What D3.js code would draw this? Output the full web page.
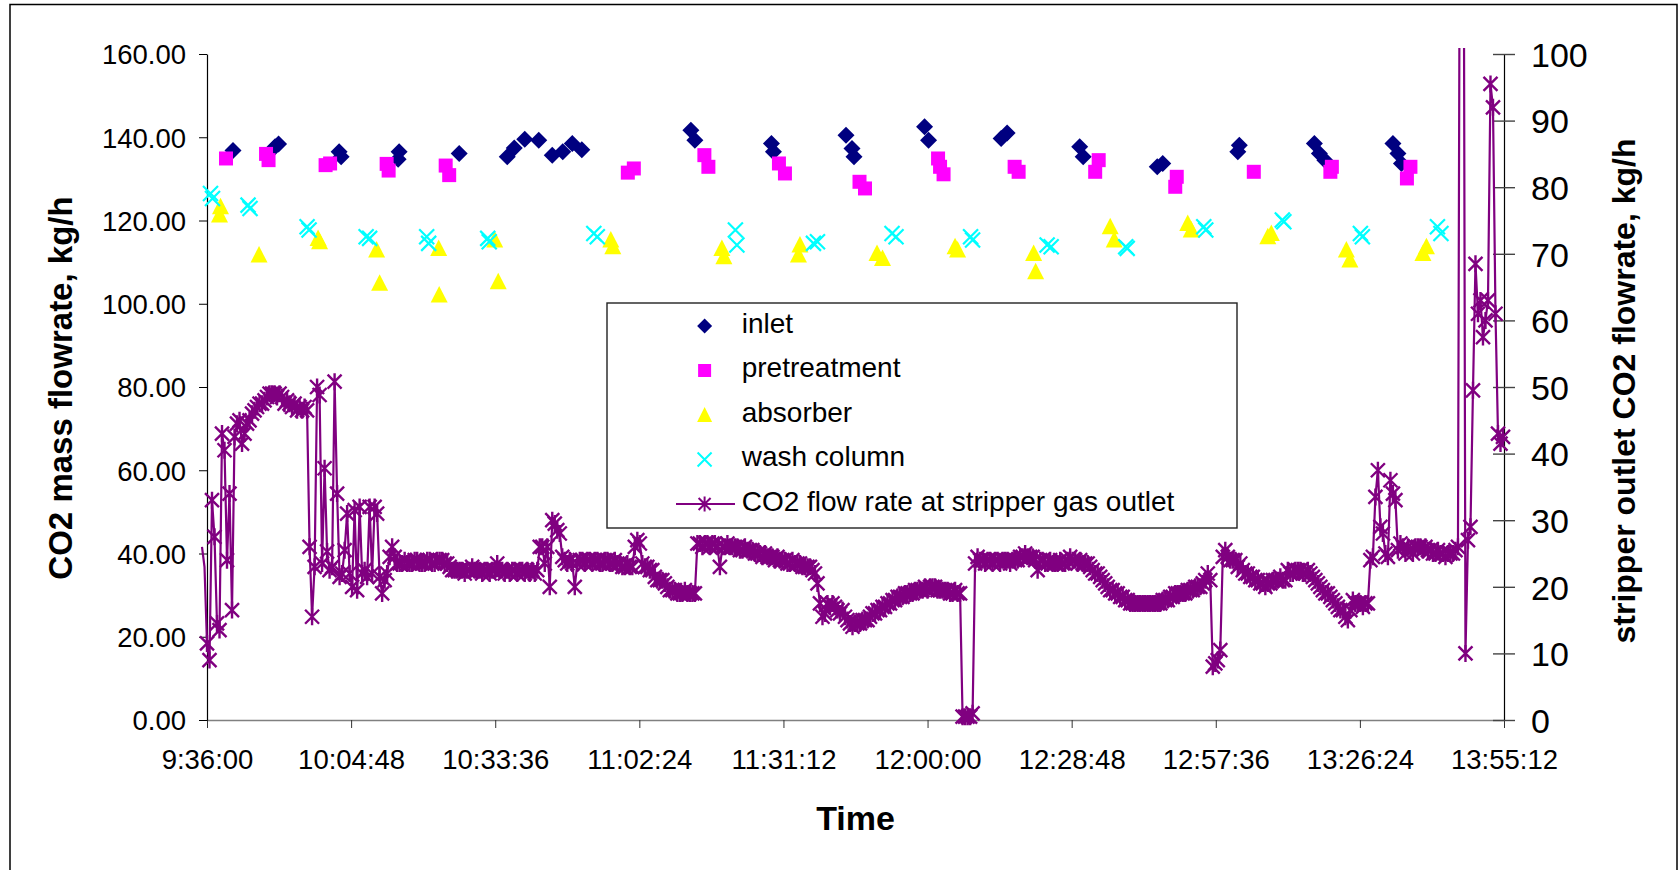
<!DOCTYPE html>
<html>
<head>
<meta charset="utf-8">
<script src="https://cdnjs.cloudflare.com/ajax/libs/d3/7.8.5/d3.min.js"></script>
<style>
	body { margin: 0; background: #fff; }
	svg { display: block; font-family: "Liberation Sans", Arial, sans-serif; }
</style>
</head>
<body>
<div id="chart"></div>
<script>
// tick labels
const timeTicks = ["9:36:00", "10:04:48", "10:33:36", "11:02:24", "11:31:12", "12:00:00", "12:28:48", "12:57:36", "13:26:24", "13:55:12"];
const leftTicks = [0, 20, 40, 60, 80, 100, 120, 140, 160];
const rightTicks = [0, 10, 20, 30, 40, 50, 60, 70, 80, 90, 100];

// scatter series, left axis (time, kg/h)
const inlet = [
	["9:41:12", 136.8], ["9:49:36", 137.7], ["9:50:18", 138.4],
	["10:02:24", 136.5], ["10:02:48", 135.3],
	["10:14:12", 134.7], ["10:14:24", 136.5],
	["10:26:24", 136.1],
	["10:36:00", 135.3], ["10:37:24", 137.4], ["10:39:30", 139.5], ["10:42:18", 139.3], ["10:45:00", 135.7], ["10:47:06", 136.5], ["10:49:00", 138.5], ["10:50:54", 137.0],
	["11:12:42", 141.7], ["11:13:30", 139.3],
	["11:28:48", 138.5], ["11:29:12", 136.5],
	["11:43:42", 140.5], ["11:44:54", 137.3], ["11:45:18", 135.3],
	["11:59:24", 142.5], ["12:00:12", 139.3],
	["12:14:42", 139.7], ["12:15:54", 141.0],
	["12:30:24", 137.7], ["12:31:06", 135.3],
	["12:45:54", 132.9], ["12:47:00", 133.7],
	["13:02:00", 136.5], ["13:02:18", 138.1],
	["13:17:18", 138.5], ["13:18:18", 136.1], ["13:19:24", 134.5],
	["13:33:00", 138.5], ["13:34:00", 136.1], ["13:34:42", 133.7]
];
const pretreatment = [
	["9:39:48", 134.9], ["9:47:48", 136.0], ["9:48:18", 134.5],
	["9:59:42", 133.3], ["10:00:36", 133.7],
	["10:11:54", 133.6], ["10:12:18", 132.0],
	["10:23:42", 133.2], ["10:24:24", 130.9],
	["11:00:06", 131.5], ["11:01:18", 132.5],
	["11:15:24", 135.7], ["11:16:12", 132.9],
	["11:30:18", 133.7], ["11:31:30", 131.3],
	["11:46:24", 129.3], ["11:47:30", 127.7],
	["12:02:06", 134.9], ["12:02:30", 132.9], ["12:03:12", 131.1],
	["12:17:24", 132.9], ["12:18:12", 131.7],
	["12:33:30", 131.7], ["12:34:12", 134.5],
	["12:49:30", 128.1], ["12:49:48", 130.5],
	["13:05:12", 131.7],
	["13:20:30", 131.7], ["13:20:48", 132.9],
	["13:35:48", 130.1], ["13:36:30", 132.9]
];
const absorber = [
	["9:38:30", 121.3], ["9:38:42", 123.3], ["9:46:24", 111.7],
	["9:58:12", 115.7], ["9:58:30", 114.9],
	["10:09:54", 112.9], ["10:10:30", 104.9],
	["10:22:18", 113.3], ["10:22:24", 102.1],
	["10:33:30", 115.3], ["10:34:12", 105.3],
	["10:56:42", 115.3], ["10:57:06", 113.7],
	["11:18:54", 113.3], ["11:19:18", 111.3],
	["11:34:12", 111.7], ["11:34:30", 114.1],
	["11:49:54", 112.1], ["11:51:00", 110.9],
	["12:05:30", 113.7], ["12:06:00", 112.9],
	["12:21:12", 112.1], ["12:21:36", 107.7],
	["12:36:30", 118.5], ["12:37:18", 115.3],
	["12:52:00", 119.3], ["12:52:42", 117.7],
	["13:08:00", 116.1], ["13:08:42", 116.9],
	["13:23:42", 112.9], ["13:24:24", 110.5],
	["13:39:00", 112.1], ["13:39:42", 113.7]
];
const washColumn = [
	["9:36:42", 126.5], ["9:37:06", 125.3],
	["9:44:12", 123.7], ["9:44:36", 122.9],
	["9:56:00", 118.5], ["9:56:24", 117.7],
	["10:07:48", 116.1], ["10:08:30", 115.7],
	["10:19:54", 116.1], ["10:20:18", 114.5],
	["10:32:06", 115.7], ["10:32:24", 114.9],
	["10:53:18", 116.9], ["10:54:00", 116.1],
	["11:21:36", 117.7], ["11:21:54", 114.1],
	["11:37:12", 114.5], ["11:38:00", 114.9],
	["11:52:54", 116.9], ["11:53:42", 116.1],
	["12:08:36", 116.1], ["12:09:00", 115.3],
	["12:23:54", 114.1], ["12:24:42", 113.7],
	["12:39:36", 113.7], ["12:39:54", 113.3],
	["12:55:12", 118.5], ["12:55:36", 117.7],
	["13:10:54", 120.1], ["13:11:12", 119.7],
	["13:26:30", 116.9], ["13:26:54", 116.1],
	["13:41:54", 118.5], ["13:42:36", 116.9]
];

// stripper gas outlet CO2, right axis, one reading every 30 s from co2Start
const co2Start = "9:35:00";
const co2StepSec = 30;
const co2Values = [
	26, 23,
	11.5, 9, 33, 27.5, 14.5, 13.5, 43, 40.5, 24, 34,
	16.5, 42.5, 44.5, 45, 41.5, 43, 44.5, 45, 46, 46.5,
	47, 47.5, 47.5, 48, 48.5, 49, 49, 49, 48.5, 49,
	48.5, 47.5, 48, 47.5, 47, 47.5, 46.5, 47, 46.5, 47,
	46.5, 26, 15.5, 23, 50, 48.8, 23.5, 37.8, 25.3, 22.5,
	23, 50.8, 34, 21.5, 22, 25.5, 31, 22, 20, 31.5,
	19.5, 32, 22, 22.5, 21.5, 32, 22, 32, 31, 21.5,
	19, 21, 22, 24.5, 26, 24.5, 23.5, 23.5, 23.5, 24,
	23.5, 23.5, 23.5, 24, 24, 23.5, 23.5, 23.5, 24, 24,
	23.5, 23.5, 24, 24, 24, 23.5, 23.5, 23, 22.5, 22.5,
	22.5, 22.5, 22.5, 22, 22.5, 22.5, 23, 22.5, 22.5, 22.5,
	22, 22.5, 22.5, 22, 22.5, 22.5, 23.5, 22.5, 22.5, 22,
	22.5, 22, 22.5, 22.5, 22, 22.5, 22.5, 22, 22.5, 22,
	22.5, 22, 22.5, 26, 26, 23.5, 26, 20, 30, 29.5,
	28.5, 28, 24.5, 24, 23.5, 24, 23.5, 20, 23.5, 24,
	24, 23.5, 24, 24, 23.5, 24, 24, 23.5, 23.5, 24,
	24, 23.5, 23.5, 24, 23.5, 23.5, 23, 23, 23.5, 23,
	23, 26, 27, 26.5, 23.5, 23, 23, 22.5, 22.5, 21.5,
	21, 21, 21, 20.5, 20, 19.5, 19.5, 19.5, 19, 19,
	19, 19.5, 19, 19, 19, 19, 26.5, 26.5, 26, 26.5,
	26.5, 26, 26.5, 26.5, 26, 23, 26, 26, 26.5, 26,
	26, 26, 26, 25.5, 25.5, 26, 25.5, 25.5, 25.5, 25,
	25, 25, 24.5, 25, 24.5, 24.5, 24.5, 24, 24.5, 24,
	24, 24, 23.5, 23.5, 24, 23.5, 23.5, 23.5, 23, 23,
	23, 23, 22.5, 22, 20.5, 17.5, 15.5, 16, 17.5, 17,
	17.5, 17, 16.5, 16, 16.5, 15.5, 15, 14.5, 14, 14.5,
	14.5, 14.5, 15, 15, 15, 15.5, 16, 16, 16.5, 16.5,
	17, 17, 17.5, 17.5, 18, 18, 18.5, 18.5, 18.5, 19,
	19, 19, 19, 19.5, 19.5, 19.5, 19.5, 20, 19.5, 20,
	20, 20, 19.5, 19.5, 19.5, 19.5, 19.5, 19, 19, 19.5,
	19, 19, 0.5, 0.5, 0.5, 0.5, 1, 23.5, 24.5, 24,
	24, 23.5, 24, 24, 23.5, 24, 24, 23.5, 24, 24,
	24, 23.5, 24, 24, 24, 24.5, 24.5, 25, 24.5, 24.5,
	24.5, 24, 22.5, 24, 24, 23.5, 23.5, 24, 23.5, 23.5,
	23.5, 24, 23.5, 23.5, 24, 24.5, 24, 24, 23.5, 24,
	23.5, 23.5, 23.5, 23, 22.5, 22, 22, 21.5, 21, 20.5,
	20, 19.5, 19.5, 19, 19, 18.5, 18.5, 18, 18, 17.5,
	17.5, 17.5, 17.5, 17.5, 17.5, 17.5, 17.5, 17.5, 17.5, 17.5,
	17.5, 17.5, 18, 18, 18, 18.5, 18.5, 19, 19, 19,
	19, 19, 19.5, 19.5, 19.5, 20, 20, 20, 20.5, 21,
	22, 21, 8, 8.5, 9, 10.5, 24.5, 25.5, 24.5, 24,
	24, 24, 23, 23.5, 22.5, 22, 22, 21.5, 21.5, 21,
	21, 20.5, 20.5, 20, 20.5, 20.5, 21, 21, 21, 21.5,
	21, 21, 22.5, 22, 22, 22.5, 22.5, 22.5, 22, 22,
	22.5, 22, 21.5, 21, 20.5, 20, 19.5, 19, 19, 18.5,
	18, 17.5, 17, 16.5, 16.5, 15.5, 15, 16.5, 18, 17.5,
	17.5, 17.5, 17, 17.5, 17.5, 24, 24.5, 33.5, 37.5, 29,
	28, 25, 24.5, 36, 34, 33, 25.5, 26.5, 26, 25,
	26, 25.5, 25, 26, 26, 26, 25.5, 26, 25.5, 25.5,
	25, 25, 25.5, 25, 25, 24.5, 25, 25, 25, 25.5,
	26, 160, 170, 10, 27, 29, 49.5, 68.5, 61, 63,
	57.5, 60, 63, 95.5, 92, 61, 43, 41.5, 42.5
];

const seriesNames = ["inlet", "pretreatment", "absorber", "wash column", "CO2 flow rate at stripper gas outlet"];

document.addEventListener("DOMContentLoaded", function(event) {

	var width = 1679;
	var height = 870;

	function toDate(s) {
		var p = s.split(":");
		return new Date(2000, 0, 1, +p[0], +p[1], +p[2]);
	}

	const svg = d3.select("#chart").append("svg")
		.attr("width", width)
		.attr("height", height);

	// outer chart frame (bottom edge runs off the picture)
	svg.append("rect")
		.attr("x", 10).attr("y", 4.5)
		.attr("width", 1667).attr("height", 900)
		.attr("fill", "#fff")
		.attr("stroke", "#000")
		.attr("stroke-width", 1.5);

	const x = d3.scaleTime()
		.domain([toDate(timeTicks[0]), toDate(timeTicks[timeTicks.length - 1])])
		.range([207, 1504]);
	const yL = d3.scaleLinear().domain([0, 160]).range([720, 54]);
	const yR = d3.scaleLinear().domain([0, 100]).range([720, 54]);

	//axes
	const xAxis = svg.append("g")
		.attr("transform", "translate(0,720)")
		.call(d3.axisBottom(x)
			.tickValues(timeTicks.map(toDate))
			.tickFormat(d3.timeFormat("%-H:%M:%S"))
			.tickSize(8)
			.tickSizeOuter(0));
	xAxis.select(".domain").attr("stroke", "#808080").attr("stroke-width", 1.6);
	xAxis.selectAll(".tick line").attr("stroke", "#333");
	xAxis.selectAll("text")
		.attr("y", 49).attr("dy", 0)
		.attr("font-size", 27.5)
		.attr("font-family", "Liberation Sans, Arial, sans-serif")
		.attr("fill", "#000");

	const leftAxis = svg.append("g")
		.attr("transform", "translate(207,0)")
		.call(d3.axisLeft(yL)
			.tickValues(leftTicks)
			.tickFormat(d3.format(".2f"))
			.tickSize(8)
			.tickPadding(13)
			.tickSizeOuter(0));
	leftAxis.select(".domain").attr("stroke", "#000").attr("stroke-width", 1.2);
	leftAxis.selectAll("text")
		.attr("dy", "0.36em")
		.attr("font-size", 27.5)
		.attr("font-family", "Liberation Sans, Arial, sans-serif")
		.attr("fill", "#000");

	const rightAxis = svg.append("g")
		.attr("transform", "translate(1504,0)")
		.call(d3.axisRight(yR)
			.tickValues(rightTicks)
			.tickSize(11)
			.tickSizeOuter(0));
	rightAxis.select(".domain").attr("stroke", "#000").attr("stroke-width", 1.2);
	rightAxis.selectAll(".tick line").attr("x1", -11).attr("x2", 11).attr("stroke", "#444").attr("stroke-width", 1.4);
	rightAxis.selectAll("text")
		.attr("x", 27)
		.attr("dy", "0.36em")
		.attr("font-size", 34)
		.attr("font-family", "Liberation Sans, Arial, sans-serif")
		.attr("fill", "#000");

	//axis titles
	svg.append("text")
		.attr("transform", "translate(72,388) rotate(-90)")
		.attr("text-anchor", "middle")
		.attr("font-size", 33)
		.attr("font-weight", "bold")
		.text("CO2 mass flowrate, kg/h");
	svg.append("text")
		.attr("transform", "translate(1635,391) rotate(-90)")
		.attr("text-anchor", "middle")
		.attr("font-size", 32)
		.attr("font-weight", "bold")
		.text("stripper outlet CO2 flowrate, kg/h");
	svg.append("text")
		.attr("x", 855.5).attr("y", 830)
		.attr("text-anchor", "middle")
		.attr("font-size", 34)
		.attr("font-weight", "bold")
		.text("Time");

	//marker shapes
	const diamond = "M0,-8.5L8.5,0L0,8.5L-8.5,0Z";
	const square = "M-7,-7H7V7H-7Z";
	const triangle = "M0,-9L8.5,7.5L-8.5,7.5Z";
	const cross = "M-7.5,-7.5L7.5,7.5M-7.5,7.5L7.5,-7.5";
	const star = "M-7,-7L7,7M-7,7L7,-7M0,-8.5V8.5";

	function scatter(data, path, color, stroked) {
		svg.append("g")
			.selectAll("path")
			.data(data)
			.enter().append("path")
			.attr("d", path)
			.attr("transform", d => "translate(" + x(toDate(d[0])) + "," + yL(d[1]) + ")")
			.attr("fill", stroked ? "none" : color)
			.attr("stroke", stroked ? color : "none")
			.attr("stroke-width", 2.2);
	}

	scatter(inlet, diamond, "#000080", false);
	scatter(pretreatment, square, "#ff00ff", false);
	scatter(absorber, triangle, "#ffff00", false);
	scatter(washColumn, cross, "#00ffff", true);

	//CO2 line on secondary axis
	const t0 = toDate(co2Start);
	const co2 = co2Values.map((v, i) => ({ t: d3.timeSecond.offset(t0, i * co2StepSec), v: v }));

	svg.append("clipPath").attr("id", "clipTop")
		.append("rect")
		.attr("x", 0).attr("y", 48)
		.attr("width", width).attr("height", height);

	const co2g = svg.append("g").attr("clip-path", "url(#clipTop)");
	co2g.append("path")
		.datum(co2)
		.attr("d", d3.line().x(d => x(d.t)).y(d => yR(d.v)))
		.attr("fill", "none")
		.attr("stroke", "#800080")
		.attr("stroke-width", 2.2);
	co2g.selectAll(".star")
		.data(co2.filter(d => d.t >= x.domain()[0]))
		.enter().append("path")
		.attr("class", "star")
		.attr("d", star)
		.attr("transform", d => "translate(" + x(d.t) + "," + yR(d.v) + ")")
		.attr("fill", "none")
		.attr("stroke", "#800080")
		.attr("stroke-width", 2.4);

	//legend
	const legend = svg.append("g");
	legend.append("rect")
		.attr("x", 607).attr("y", 303)
		.attr("width", 630).attr("height", 225)
		.attr("fill", "#fff")
		.attr("stroke", "#222")
		.attr("stroke-width", 1.4);

	const legendShapes = [
		"M0,-7.5L7.5,0L0,7.5L-7.5,0Z",
		"M-6.5,-6.5H6.5V6.5H-6.5Z",
		"M0,-8L7.5,7L-7.5,7Z",
		"M-7,-7L7,7M-7,7L7,-7",
		"M-6,-6L6,6M-6,6L6,-6M0,-7.5V7.5"
	];
	const legendColors = ["#000080", "#ff00ff", "#ffff00", "#00ffff", "#800080"];
	seriesNames.forEach(function(name, i) {
		var ly = 326 + i * 44.5;
		if (i == 4) {
			legend.append("line")
				.attr("x1", 676).attr("x2", 735)
				.attr("y1", ly).attr("y2", ly)
				.attr("stroke", legendColors[i])
				.attr("stroke-width", 2);
		}
		var stroked = i >= 3;
		legend.append("path")
			.attr("d", legendShapes[i])
			.attr("transform", "translate(704.6," + ly + ")")
			.attr("fill", stroked ? "none" : legendColors[i])
			.attr("stroke", stroked ? legendColors[i] : "none")
			.attr("stroke-width", 2);
		legend.append("text")
			.attr("x", 741.7).attr("y", ly + 6.5)
			.attr("font-size", 28)
			.text(name);
	});
});
</script>
</body>
</html>
